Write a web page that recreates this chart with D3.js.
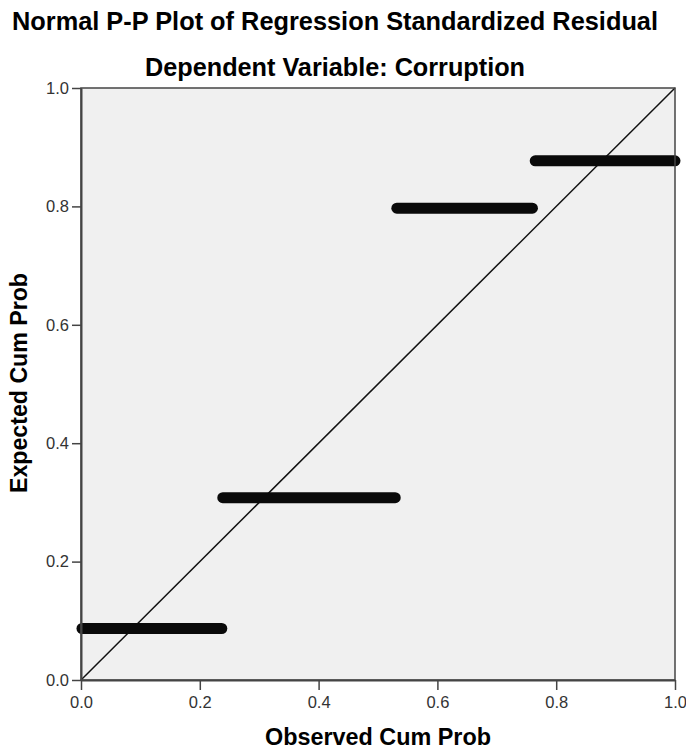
<!DOCTYPE html>
<html>
<head>
<meta charset="utf-8">
<script src="https://cdn.jsdelivr.net/npm/d3@7"></script>
<style>
  body { margin: 0; background: #fff; }
  text { font-family: "Liberation Sans", Arial, sans-serif; }
</style>
</head>
<body>
<div id="chart"></div>
<script>
// runs of tied residuals: observed cum prob from..to, expected cum prob
var obsStart = [0.0, 0.237, 0.53, 0.763];
var obsEnd   = [0.237, 0.529, 0.76, 1.0];
var expected = [0.087, 0.308, 0.797, 0.877];

var ticks = [0.0, 0.2, 0.4, 0.6, 0.8, 1.0];

var W = 686, H = 753;
var margin = {top: 88, right: 11, bottom: 73, left: 81};
var width = W - margin.left - margin.right,
    height = H - margin.top - margin.bottom;

var svg = d3.select("#chart").append("svg")
  .attr("width", W)
  .attr("height", H);

svg.append("text")
  .attr("x", 335).attr("y", 30)
  .attr("text-anchor", "middle")
  .attr("textLength", 646).attr("lengthAdjust", "spacingAndGlyphs")
  .style("font-size", "25px").style("font-weight", "bold")
  .text("Normal P-P Plot of Regression Standardized Residual");

svg.append("text")
  .attr("x", 335).attr("y", 76)
  .attr("text-anchor", "middle")
  .attr("textLength", 380).attr("lengthAdjust", "spacingAndGlyphs")
  .style("font-size", "25px").style("font-weight", "bold")
  .text("Dependent Variable: Corruption");

var g = svg.append("g")
  .attr("transform", "translate(" + margin.left + "," + margin.top + ")");

var x = d3.scaleLinear().domain([0, 1]).range([0, width]);
var y = d3.scaleLinear().domain([0, 1]).range([height, 0]);

g.append("rect")
  .attr("width", width).attr("height", height)
  .style("fill", "#f0f0f0");

// reference line
g.append("line")
  .attr("x1", x(0)).attr("y1", y(0))
  .attr("x2", x(1)).attr("y2", y(1))
  .style("stroke", "#111").style("stroke-width", 1.5);

// points (ties drawn as runs)
g.append("g").selectAll("line")
  .data(expected)
  .enter().append("line")
    .attr("x1", function(d, i) { return x(obsStart[i]) + 1; })
    .attr("x2", function(d, i) { return x(obsEnd[i]); })
    .attr("y1", function(d) { return y(d); })
    .attr("y2", function(d) { return y(d); })
    .style("stroke", "#0a0a0a")
    .style("stroke-width", 11)
    .style("stroke-linecap", "round");

// frame
g.append("rect")
  .attr("width", width).attr("height", height)
  .style("fill", "none").style("stroke", "#444").style("stroke-width", 1.5);

var xAxis = g.append("g")
  .attr("transform", "translate(0," + height + ")")
  .call(d3.axisBottom(x).tickValues(ticks).tickFormat(d3.format(".1f")).tickSize(10).tickSizeOuter(0));
var yAxis = g.append("g")
  .call(d3.axisLeft(y).tickValues(ticks).tickFormat(d3.format(".1f")).tickSize(9).tickSizeOuter(0));

[xAxis, yAxis].forEach(function(a) {
  a.select(".domain").style("stroke", "#444").style("stroke-width", 2);
  a.selectAll(".tick line").style("stroke", "#444").style("stroke-width", 1.5);
  a.selectAll(".tick text")
    .style("font-family", "Liberation Sans, Arial, sans-serif")
    .style("font-size", "16.5px").style("fill", "#333");
});
xAxis.selectAll(".tick text").attr("dy", "0.75em").attr("y", 16);
yAxis.selectAll(".tick text").attr("x", -12);

svg.append("text")
  .attr("x", margin.left + width / 2).attr("y", 745)
  .attr("text-anchor", "middle")
  .attr("textLength", 226).attr("lengthAdjust", "spacingAndGlyphs")
  .style("font-size", "23px").style("font-weight", "bold")
  .text("Observed Cum Prob");

svg.append("text")
  .attr("transform", "translate(" + 27 + "," + 383 + ") rotate(-90)")
  .attr("text-anchor", "middle")
  .attr("textLength", 220).attr("lengthAdjust", "spacingAndGlyphs")
  .style("font-size", "23px").style("font-weight", "bold")
  .text("Expected Cum Prob");
</script>
</body>
</html>
